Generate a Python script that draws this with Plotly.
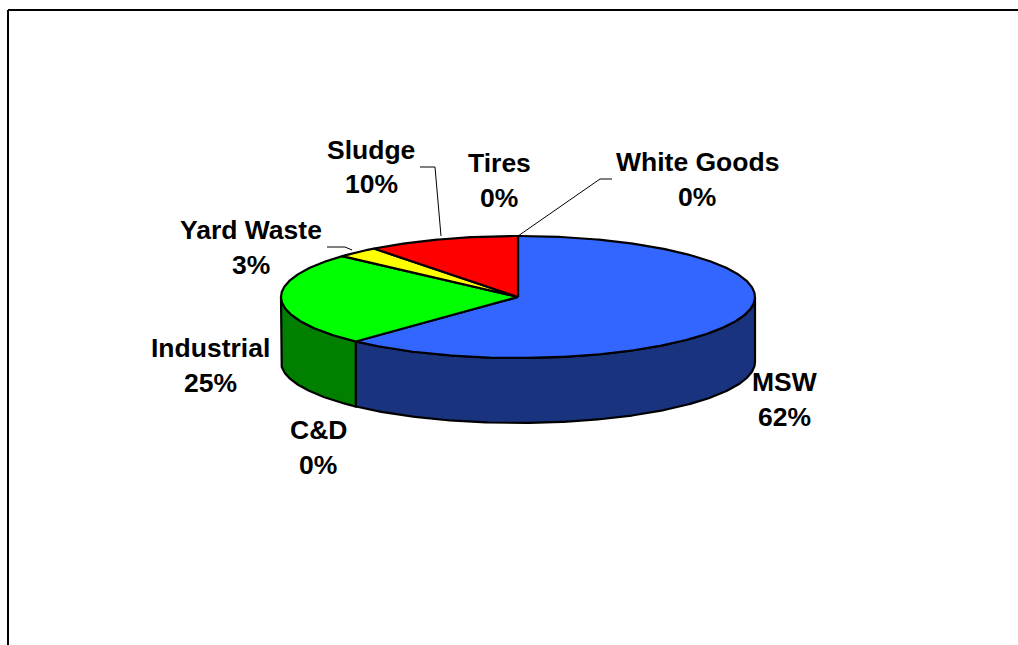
import numpy as np
import plotly.graph_objects as go

# ---- data ----
categories = ["MSW", "C&D", "Industrial", "Yard Waste", "Sludge", "Tires", "White Goods"]
values = [62.0, 0.0, 24.7, 2.9, 10.4, 0.0, 0.0]
top_colors = ["#3366FF", "#006400", "#00FF00", "#FFFF00", "#FF0000", "#808080", "#FFFFFF"]
side_colors = ["#19337F", "#003200", "#007F00", "#7F7F00", "#7F0000", "#404040", "#7F7F7F"]

# ---- layout of the drawing, in page pixels ----
CX, CY, RX, RY, DEPTH = 518, 297, 237, 61, 65
FONT = dict(family="Liberation Sans, Arial, sans-serif", size=26.5, color="black")
# label centre x, name y, percent y
label_pos = {
    "MSW": (784, 382, 417),
    "C&D": (318, 430, 465),
    "Industrial": (210, 348, 383),
    "Yard Waste": (251, 230, 265),
    "Sludge": (371, 150, 184),
    "Tires": (499, 163, 198),
    "White Goods": (697, 162, 197),
}
leaders = {
    "Sludge": ([420, 435, 441], [167, 167, 236]),
    "Yard Waste": ([327, 345, 352], [247, 247, 250]),
    "White Goods": ([612, 600, 518], [179, 179, 236]),
}


def rim(a0, a1, dy=0):
    """Points on the ellipse between two clockwise angles from 12 o'clock (degrees)."""
    n = max(2, int(abs(a1 - a0)) * 2 + 2)
    t = np.radians(np.linspace(a0, a1, n))
    return CX + RX * np.sin(t), CY - RY * np.cos(t) + dy


fig = go.Figure()


def poly(x, y, color):
    fig.add_trace(go.Scatter(
        x=list(x), y=list(y), mode="lines", fill="toself", fillcolor=color,
        line=dict(color="black", width=2.2), hoverinfo="skip", showlegend=False,
    ))


total = sum(values)
edges = np.concatenate([[0], np.cumsum(values)]) / total * 360

# side wall: only the front half of the disc (90..270 degrees) is visible
for i, cat in enumerate(categories):
    a0, a1 = max(edges[i], 90), min(edges[i + 1], 270)
    if a1 > a0:
        xt, yt = rim(a0, a1)
        xb, yb = rim(a0, a1, DEPTH)
        poly(np.r_[xt, xb[::-1], xt[0]], np.r_[yt, yb[::-1], yt[0]], side_colors[i])

# top face
for i, cat in enumerate(categories):
    a0, a1 = edges[i], edges[i + 1]
    if a1 > a0:
        xt, yt = rim(a0, a1)
        poly(np.r_[CX, xt, CX], np.r_[CY, yt, CY], top_colors[i])

# leader lines
for xs, ys in leaders.values():
    fig.add_trace(go.Scatter(x=xs, y=ys, mode="lines", line=dict(color="black", width=1),
                             hoverinfo="skip", showlegend=False))

# labels
for cat, val in zip(categories, values):
    x, y1, y2 = label_pos[cat]
    fig.add_annotation(x=x, y=y1, text=f"<b>{cat}</b>", showarrow=False, font=FONT)
    fig.add_annotation(x=x, y=y2, text=f"<b>{round(val / total * 100)}%</b>", showarrow=False, font=FONT)

# chart frame: only top and left edges are visible in the crop
fig.add_shape(type="line", x0=8, x1=1018, y0=10, y1=10, line=dict(color="black", width=2))
fig.add_shape(type="line", x0=8, x1=8, y0=10, y1=645, line=dict(color="black", width=2))

fig.update_layout(
    width=1018, height=645, margin=dict(l=0, r=0, t=0, b=0),
    paper_bgcolor="white", plot_bgcolor="white", showlegend=False,
    xaxis=dict(range=[0, 1018], visible=False, fixedrange=True),
    yaxis=dict(range=[645, 0], visible=False, fixedrange=True),
)
fig.write_html(
    "out.html",
    config={"displayModeBar": False},
    default_width="1018px",
    default_height="645px",
    post_script="document.body.style.margin='0';document.body.style.overflow='hidden';",
)
